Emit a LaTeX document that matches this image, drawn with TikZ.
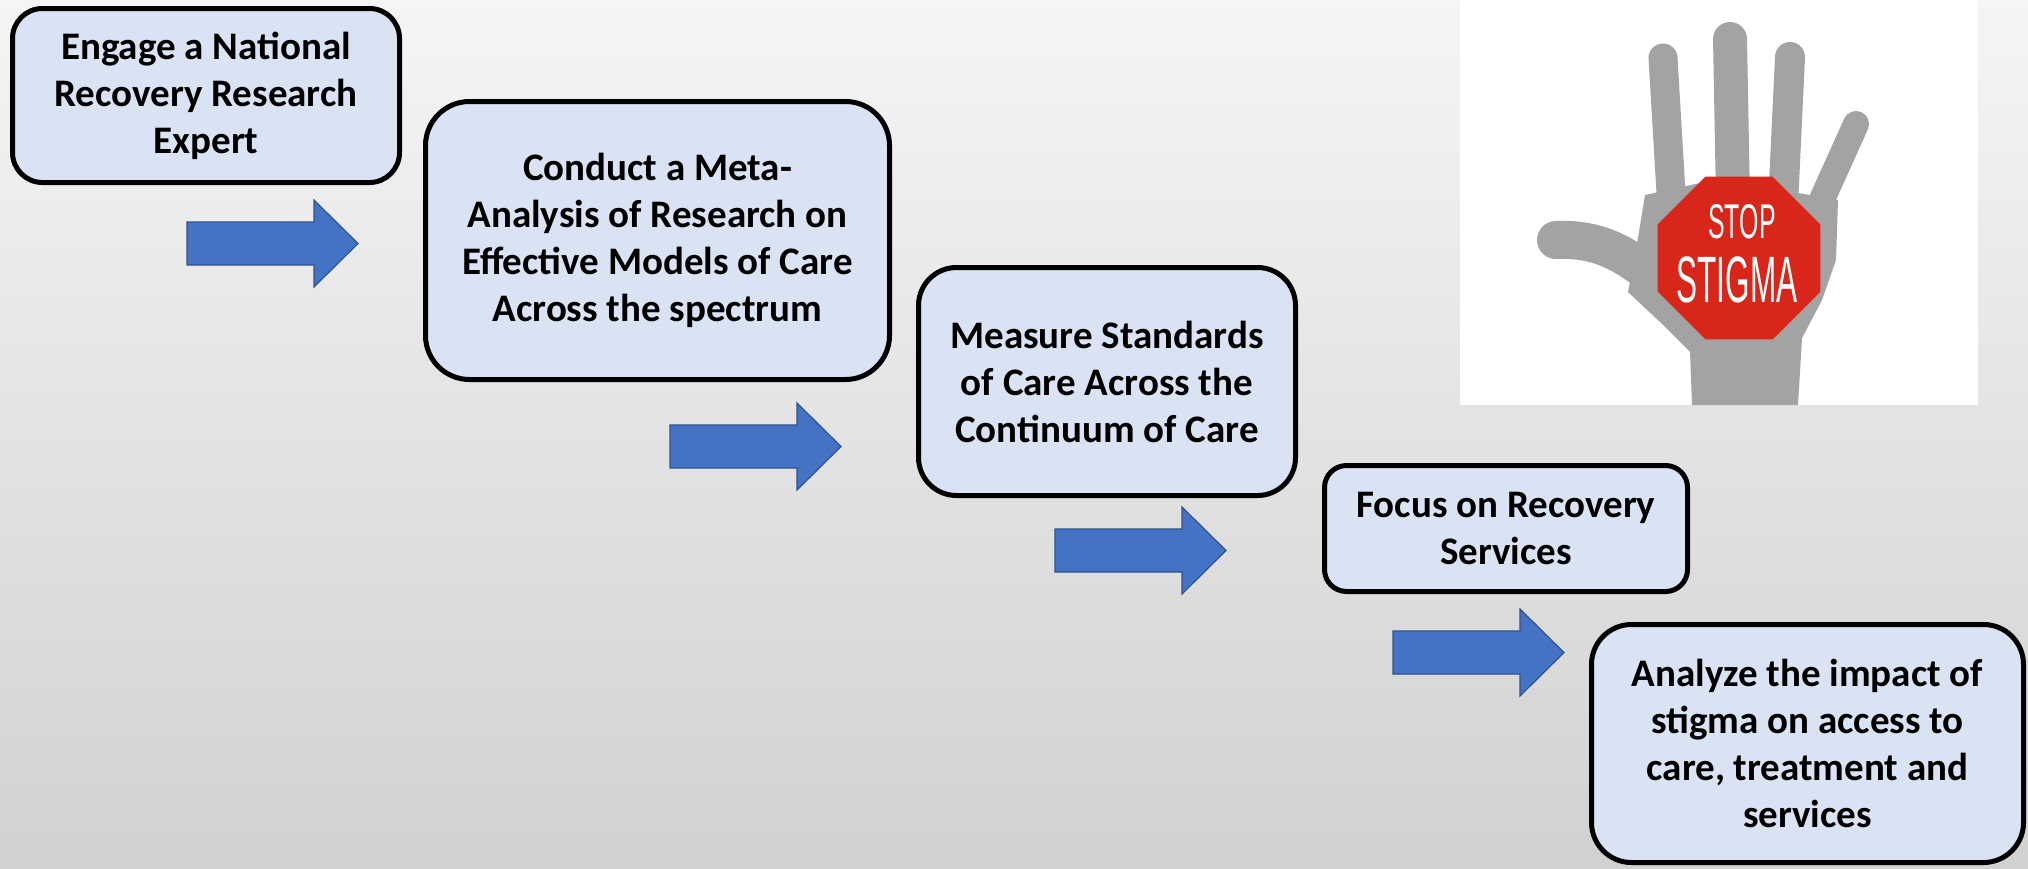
\documentclass[tikz,border=0pt]{standalone}
\usepackage{fontspec}
\setmainfont{Carlito}
\newfontfamily\signfont{Liberation Sans}
\usepackage{graphicx}
\usepackage{tikz}
\usetikzlibrary{shapes.geometric}

\definecolor{boxblue}{HTML}{DAE3F3}
\definecolor{arrowblue}{HTML}{4472C4}
\definecolor{arrowedge}{HTML}{2F528F}
\definecolor{signred}{HTML}{D8261B}

\tikzset{
  stepbox/.style={draw=black, line width=2.5pt, fill=boxblue, align=center,
    font=\fontsize{19.5}{23.5}\selectfont\bfseries, inner sep=0pt},
  bluearrow/.style={fill=arrowblue, draw=arrowedge, line width=0.6pt, line join=miter},
  finger/.style={line cap=round, draw=black!36},
  signtext/.style={text=white, inner sep=0pt},
}

\begin{document}
\begin{tikzpicture}[x=0.5pt, y=-0.5pt]
% background %
\useasboundingbox (0,0) rectangle (2028,868);
\shade[top color=black!4, bottom color=black!18] (0,0) rectangle (2028,868);

% nodes %
\node[stepbox, minimum width=193.5pt, minimum height=87pt, rounded corners=15pt] (expert) at (206,95.5) {Engage a National\\Recovery Research\\Expert};
\node[stepbox, minimum width=232pt, minimum height=139pt, rounded corners=22pt] (meta) at (657.5,240.5) {Conduct a Meta-\\Analysis of Research on\\Effective Models of Care\\Across the spectrum};
\node[stepbox, minimum width=188.5pt, minimum height=114pt, rounded corners=19pt] (measure) at (1107,381.5) {Measure Standards\\of Care Across the\\Continuum of Care};
\node[stepbox, minimum width=181.5pt, minimum height=63pt, rounded corners=11pt] (focus) at (1506,528.5) {Focus on Recovery\\Services};
\node[stepbox, minimum width=216pt, minimum height=119pt, rounded corners=20pt] (impact) at (1807.5,743.5) {Analyze the impact of\\stigma on access to\\care, treatment and\\services};

% arrows %
\coordinate (a1) at (187,243.5);
\coordinate (a2) at (670,446.5);
\coordinate (a3) at (1055,550.5);
\coordinate (a4) at (1393,652.5);
\draw[bluearrow] (a1) ++(0,-21.5) -- ++(127,0) -- ++(0,-22) -- ++(44,43.5) -- ++(-44,43.5) -- ++(0,-22) -- ++(-127,0) -- cycle;
\draw[bluearrow] (a2) ++(0,-21.5) -- ++(127,0) -- ++(0,-22) -- ++(44,43.5) -- ++(-44,43.5) -- ++(0,-22) -- ++(-127,0) -- cycle;
\draw[bluearrow] (a3) ++(0,-21.5) -- ++(127,0) -- ++(0,-22) -- ++(44,43.5) -- ++(-44,43.5) -- ++(0,-22) -- ++(-127,0) -- cycle;
\draw[bluearrow] (a4) ++(0,-21.5) -- ++(127,0) -- ++(0,-22) -- ++(44,43.5) -- ++(-44,43.5) -- ++(0,-22) -- ++(-127,0) -- cycle;

% photo %
\fill[white] (1460,0) rectangle (1978,405);
\fill[black!36] (1645,195) -- (1700,183) -- (1770,188) -- (1838,200) -- (1836,260) -- (1822,300) -- (1802,338) -- (1798,405) -- (1692,405) -- (1690,352) -- (1660,322) -- (1628,292) -- (1636,250) -- cycle;
\draw[finger, line width=14.5pt] (1663,58) -- (1672,210);
\draw[finger, line width=17pt] (1730,39) -- (1733,200);
\draw[finger, line width=15pt] (1790,57) -- (1783,205);
\draw[finger, line width=13pt] (1856,124) -- (1815,215);
\draw[finger, line width=19pt] (1556,240) .. controls (1600,238) and (1630,255) .. (1665,288);
\node[regular polygon, regular polygon sides=8, minimum size=88pt, fill=signred, inner sep=0pt] (sign) at (1739,258) {};
\node[signtext, font=\signfont\fontsize{24.4}{24}\selectfont] (stop) at (1742,222) {\scalebox{0.51}[1]{STOP}};
\node[signtext, font=\signfont\fontsize{32.8}{33}\selectfont] (stigma) at (1737,280) {\scalebox{0.48}[1]{STIGMA}};

\end{tikzpicture}
\end{document}
